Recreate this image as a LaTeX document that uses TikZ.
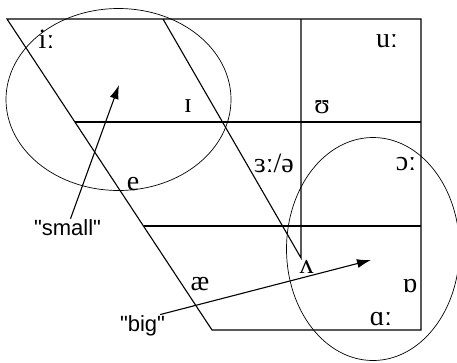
\documentclass[tikz,border=0pt]{standalone}
\usepackage{fontspec}
\setmainfont{Liberation Serif}
\newfontfamily\etiqfont{Liberation Sans}
\usetikzlibrary{arrows.meta,positioning,calc}
\tikzset{
  vocal/.style={font=\fontsize{28}{30}\selectfont, inner sep=0pt},
  etiq/.style={font=\etiqfont\fontsize{22}{26}\selectfont, inner sep=1pt},
  linea/.style={line width=1.1pt},
  zona/.style={line width=0.7pt},
  flecha/.style={-{Latex[length=14pt,width=9pt]}, line width=1.1pt}
}

\begin{document}
\begin{tikzpicture}[x=1pt,y=-1pt]
\useasboundingbox (0,0) rectangle (457,362);
% esquinas del trapecio
\coordinate (tl) at (7,19);
\coordinate (tr) at (421,19);
\coordinate (br) at (421,330);
\coordinate (bl) at (212,330);
\coordinate (ti) at (163,19);
\coordinate (tm) at (301,19);
\coordinate (lam) at (301,258);
\coordinate (h1l) at (75,122);
\coordinate (h1r) at (421,122);
\coordinate (h2l) at (143.5,226);
\coordinate (h2r) at (421,226);

\draw[linea] (tl) -- (tr) -- (br) -- (bl) -- cycle;
\draw[linea] (ti) -- (lam) -- (tm);
\draw[linea] (h1l) -- (h1r);
\draw[linea] (h2l) -- (h2r);

% zonas
\draw[zona] (118.5,99.5) ellipse [x radius=112.5pt, y radius=91pt];
\draw[zona] (373,249) ellipse [x radius=86.5pt, y radius=111.5pt];

% vocales
\node[vocal] (iy) at (46.5,39) {iː};
\node[vocal] (ih) at (188,106.5) {ɪ};
\node[vocal] (uh) at (322,107.5) {ʊ};
\node[vocal] (uw) at (387,41.5) {uː};
\node[vocal] (er) at (274,163.5) {ɜː/ə};
\node[vocal] (ao) at (406,164) {ɔː};
\node[vocal] (eh) at (133,184) {e};
\node[vocal] (ae) at (200,284.5) {æ};
\node[vocal] (ah) at (306.5,267) {ʌ};
\node[vocal] (oh) at (410,286) {ɒ};
\node[vocal] (aa) at (381,319.5) {ɑː};

% etiquetas
\node[etiq] (small) at (67.5,228) {"small"};
\node[etiq] (big) at (142.5,326) {"big"};
\coordinate (psmall) at (119,85);
\coordinate (pbig) at (371,260);
\draw[flecha] ([xshift=3pt]small.north) -- (psmall);
\draw[flecha] ([xshift=-6pt]big.north east) -- (pbig);
\end{tikzpicture}
\end{document}
